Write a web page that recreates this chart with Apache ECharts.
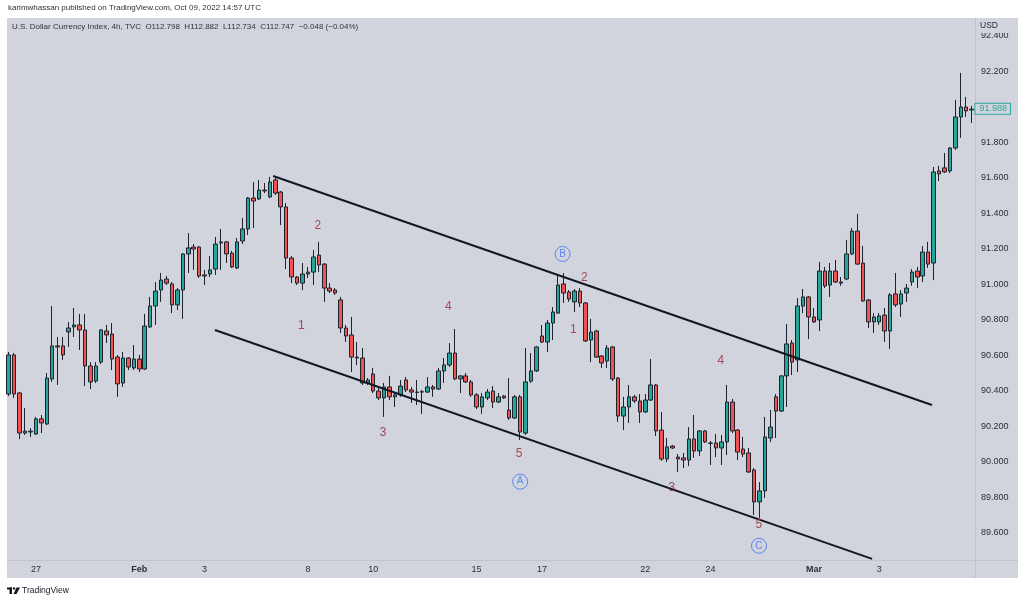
<!DOCTYPE html>
<html><head><meta charset="utf-8">
<script src="https://cdn.jsdelivr.net/npm/echarts@6/dist/echarts.min.js"></script>
<style>html,body{margin:0;padding:0;background:#fff}#c{width:1024px;height:604px}</style>
</head><body><div id="c"></div>
<script>
// ---- DATA (U.S. Dollar Currency Index, 4h candles) ----
const opens=[
90.383,90.603,90.389,90.163,90.169,90.158,90.243,90.214,90.468,90.654,
90.654,90.733,90.761,90.772,90.744,90.541,90.456,90.563,90.738,90.721,
90.591,90.445,90.586,90.530,90.580,90.524,90.761,90.879,90.969,91.031,
91.003,90.885,90.969,91.172,91.211,91.211,91.054,91.059,91.087,91.234,
91.240,91.177,91.093,91.245,91.313,91.487,91.482,91.532,91.493,91.589,
91.521,91.437,91.149,91.042,91.008,91.059,91.070,91.166,91.115,90.980,
90.969,90.913,90.755,90.716,90.591,90.586,90.445,90.496,90.400,90.361,
90.423,90.367,90.378,90.462,90.406,90.394,90.394,90.394,90.423,90.411,
90.513,90.547,90.614,90.468,90.485,90.451,90.378,90.310,90.361,90.400,
90.338,90.372,90.293,90.248,90.367,90.163,90.456,90.513,90.710,90.676,
90.783,90.839,91.003,90.958,90.902,90.963,90.896,90.687,90.738,90.597,
90.569,90.648,90.473,90.259,90.310,90.367,90.344,90.282,90.349,90.434,
90.180,90.017,90.090,90.028,90.023,90.011,90.130,90.062,90.175,90.107,
90.107,90.079,90.113,90.338,90.180,90.073,90.051,89.955,89.775,89.837,
90.135,90.367,90.287,90.485,90.670,90.575,90.879,90.930,90.817,90.800,
91.076,90.997,91.076,91.014,91.031,91.172,91.301,91.121,90.913,90.789,
90.789,90.828,90.738,90.947,90.890,90.952,91.014,91.076,91.048,91.183,
91.121,91.640,91.657,91.640,91.769,91.944,92.000,91.983];
const closes=[
90.603,90.383,90.163,90.174,90.174,90.243,90.220,90.473,90.654,90.648,
90.603,90.755,90.772,90.744,90.541,90.451,90.541,90.744,90.716,90.580,
90.440,90.586,90.535,90.580,90.524,90.766,90.879,90.963,91.025,91.008,
90.885,90.969,91.172,91.206,91.200,91.048,91.048,91.082,91.228,91.240,
91.172,91.099,91.240,91.313,91.487,91.470,91.532,91.527,91.577,91.515,
91.437,91.149,91.042,91.008,91.059,91.070,91.155,91.110,90.980,90.963,
90.952,90.755,90.710,90.591,90.586,90.445,90.462,90.400,90.361,90.423,
90.367,90.378,90.428,90.406,90.394,90.392,90.396,90.423,90.411,90.513,
90.547,90.614,90.468,90.485,90.451,90.378,90.310,90.367,90.394,90.338,
90.367,90.361,90.248,90.367,90.169,90.451,90.513,90.648,90.676,90.783,
90.845,90.997,90.952,90.918,90.963,90.896,90.682,90.732,90.591,90.558,
90.642,90.468,90.259,90.310,90.367,90.344,90.282,90.349,90.434,90.175,
90.017,90.085,90.079,90.017,90.011,90.130,90.062,90.175,90.113,90.105,
90.079,90.113,90.338,90.175,90.056,90.045,89.944,89.775,89.837,90.141,
90.197,90.287,90.485,90.665,90.563,90.879,90.930,90.817,90.789,91.076,
90.992,91.076,91.014,91.008,91.172,91.301,91.115,90.907,90.789,90.817,
90.823,90.738,90.941,90.885,90.947,90.980,91.070,91.042,91.183,91.115,
91.634,91.623,91.634,91.769,91.944,92.000,91.978,91.988];
const lows=[
90.372,90.361,90.129,90.152,90.141,90.152,90.163,90.208,90.451,90.434,
90.575,90.648,90.704,90.631,90.428,90.411,90.445,90.552,90.670,90.518,
90.367,90.423,90.518,90.518,90.507,90.518,90.755,90.772,90.902,90.997,
90.839,90.856,90.806,91.065,91.082,91.037,90.997,91.042,91.054,91.082,
91.121,91.093,91.087,91.228,91.279,91.318,91.476,91.515,91.487,91.504,
91.335,91.087,91.008,90.997,90.969,91.037,90.997,91.070,90.902,90.952,
90.941,90.727,90.676,90.507,90.546,90.434,90.434,90.389,90.349,90.254,
90.349,90.310,90.367,90.394,90.333,90.321,90.270,90.389,90.367,90.406,
90.445,90.535,90.462,90.389,90.445,90.367,90.298,90.270,90.349,90.304,
90.333,90.355,90.237,90.243,90.124,90.152,90.445,90.507,90.670,90.620,
90.687,90.834,90.896,90.902,90.845,90.873,90.676,90.563,90.586,90.530,
90.530,90.456,90.226,90.180,90.220,90.333,90.220,90.276,90.344,90.146,
90.006,90.000,90.073,89.944,89.966,89.977,90.023,90.034,90.107,89.983,
90.028,89.983,90.039,90.163,90.011,90.028,89.938,89.701,89.685,89.797,
90.113,90.135,90.282,90.310,90.490,90.507,90.839,90.693,90.783,90.738,
90.980,90.930,91.008,90.992,91.025,91.166,91.110,90.902,90.755,90.727,
90.772,90.676,90.637,90.873,90.817,90.902,90.992,90.980,91.014,91.093,
91.025,91.583,91.628,91.628,91.758,91.826,91.944,91.910];
const highs=[
90.620,90.614,90.395,90.304,90.191,90.254,90.265,90.501,90.879,90.704,
90.704,90.789,90.868,90.834,90.834,90.563,90.563,90.749,90.772,90.783,
90.603,90.620,90.591,90.659,90.603,90.834,90.930,91.014,91.065,91.048,
91.014,90.980,91.177,91.290,91.228,91.217,91.082,91.160,91.268,91.313,
91.245,91.189,91.262,91.375,91.493,91.577,91.589,91.572,91.606,91.606,
91.527,91.459,91.160,91.048,91.121,91.099,91.194,91.240,91.121,91.008,
90.980,90.930,90.772,90.817,90.676,90.642,90.473,90.530,90.423,90.445,
90.485,90.389,90.462,90.479,90.423,90.462,90.406,90.479,90.434,90.530,
90.586,90.670,90.749,90.490,90.501,90.462,90.389,90.389,90.411,90.428,
90.389,90.378,90.473,90.378,90.378,90.642,90.614,90.654,90.772,90.800,
90.873,91.054,91.065,90.969,90.975,90.980,90.902,90.806,90.744,90.603,
90.659,90.654,90.479,90.367,90.434,90.378,90.383,90.383,90.580,90.439,
90.282,90.135,90.096,90.045,90.051,90.197,90.265,90.180,90.180,90.118,
90.158,90.152,90.434,90.355,90.186,90.141,90.079,89.966,89.887,90.254,
90.293,90.383,90.490,90.777,90.687,90.924,90.975,90.935,90.868,91.127,
91.099,91.121,91.138,91.042,91.251,91.318,91.397,91.217,90.918,90.839,
90.839,90.868,90.952,91.065,90.969,91.003,91.087,91.099,91.217,91.240,
91.662,91.668,91.741,91.775,92.040,92.192,92.057,92.006];

// time-axis ticks (candle index -> label)
const tickIndex=[5,24,36,55,67,86,98,117,129,148,160];
const tickLabels=['27','Feb','3','8','10','15','17','22','24','Mar','3'];
const monthLabels=['Feb','Mar'];

// channel lines (candle index, price)
const upperLineX=[48.6,169.7], upperLineY=[91.611,90.321];
const lowerLineX=[37.9,158.7], lowerLineY=[90.744,89.454];

// Elliott wave numbers
const waveX=[56.8,53.8,80.8,68.8,93.8,105.8,103.8,130.9,121.9,137.9];
const waveY=[91.330,90.766,90.875,90.165,90.049,91.038,90.748,90.569,89.855,89.645];
const waveText=['2','1','4','3','5','2','1','4','3','5'];
// circled letters
const circX=[94.0,101.8,137.9];
const circY=[89.889,91.172,89.528];
const circText=['A','B','C'];

// price axis
const yMin=89.4, yMax=92.6, yStep=0.2;

// ---- CHART ----
const N=opens.length;
const candleData=opens.map((o,i)=>[o,closes[i],lows[i],highs[i]]);
const lastClose=closes[N-1];
const categories=opens.map((_,i)=>String(i));
const labelMap={}; tickIndex.forEach((t,k)=>labelMap[t]=tickLabels[k]);
const FONT='Liberation Sans';
const BG='#d1d4dc', SEP='#c0c3cb', TXT='#131722';

const chart=echarts.init(document.getElementById('c'),null,{renderer:'canvas'});
chart.setOption({
  animation:false,
  backgroundColor:'#ffffff',
  grid:{left:6,top:0.5,width:968.4,height:568},
  xAxis:[
    {type:'category',data:categories,boundaryGap:true,
     axisLine:{show:false},axisTick:{show:false},splitLine:{show:false},
     axisLabel:{interval:(i)=>labelMap[i]!==undefined,
       formatter:(v)=>{const t=labelMap[Number(v)]; if(t===undefined) return ''; return monthLabels.includes(t)?'{m|'+t+'}':t;},
       margin:1.5,verticalAlign:'middle',color:'#2a2e39',fontSize:9,fontFamily:FONT,
       rich:{m:{fontWeight:'bold',fontSize:9,fontFamily:FONT,color:'#2a2e39'}}}},
    {type:'value',min:-0.5,max:N-0.5,show:false}
  ],
  yAxis:{type:'value',position:'right',min:yMin,max:yMax,interval:yStep,scale:true,
    axisLine:{show:false},axisTick:{show:false},splitLine:{show:false},
    axisLabel:{showMinLabel:false,showMaxLabel:false,margin:6.5,
      formatter:(v)=>Math.abs(v-lastClose)<0.03?'':v.toFixed(3),
      color:'#2a2e39',fontSize:9,fontFamily:FONT}},
  graphic:[
    {type:'rect',z:-100,shape:{x:7,y:18,width:1011,height:560},style:{fill:BG}},
    {type:'line',z:1,shape:{x1:975.5,y1:18,x2:975.5,y2:578},style:{stroke:SEP,lineWidth:1}},
    {type:'line',z:1,shape:{x1:7,y1:560.5,x2:1018,y2:560.5},style:{stroke:SEP,lineWidth:1}},
    {type:'rect',z:50,shape:{x:977,y:19,width:40,height:14},style:{fill:BG}},
    {type:'text',z:51,left:980,top:21,style:{text:'USD',fill:'#2a2e39',font:'8.5px '+FONT}},
    {type:'text',z:51,left:8,top:4,style:{text:'karimwhassan published on TradingView.com, Oct 09, 2022 14:57 UTC',fill:'#333',font:'8px '+FONT}},
    {type:'text',z:51,left:12,top:23,style:{text:'U.S. Dollar Currency Index, 4h, TVC  O112.798  H112.882  L112.734  C112.747  \u22120.048 (\u22120.04%)',fill:'#333',font:'8px '+FONT}},
    {type:'rect',z:51,shape:{x:7,y:587.5,width:5,height:2},style:{fill:TXT}},
    {type:'rect',z:51,shape:{x:9.5,y:587.5,width:2.5,height:6.5},style:{fill:TXT}},
    {type:'circle',z:51,shape:{cx:14,cy:588.5,r:1.2},style:{fill:TXT}},
    {type:'polygon',z:51,shape:{points:[[16.5,587.5],[20,587.5],[16.5,594],[13.5,594]]},style:{fill:TXT}},
    {type:'text',z:51,left:22,top:586.5,style:{text:'TradingView',fill:TXT,font:'8.5px '+FONT}}
  ],
  series:[
    {type:'candlestick',name:'DXY',xAxisIndex:0,yAxisIndex:0,data:candleData,barWidth:4,
     itemStyle:{color:'#26a69a',color0:'#ef5350',borderColor:'#1e222d',borderColor0:'#1e222d',borderWidth:1},
     markLine:{silent:true,symbol:['none','none'],lineStyle:{width:0,color:'transparent'},
       label:{show:true,position:'end',distance:1,formatter:()=>lastClose.toFixed(3),color:'#26a69a',
         backgroundColor:BG,borderColor:'#26a69a',borderWidth:1,padding:[1,3,0,4],fontSize:9,fontFamily:FONT},
       data:[{yAxis:lastClose}]}},
    {type:'line',xAxisIndex:1,z:3,symbol:'none',data:upperLineX.map((x,k)=>[x,upperLineY[k]]),lineStyle:{color:TXT,width:2}},
    {type:'line',xAxisIndex:1,z:3,symbol:'none',data:lowerLineX.map((x,k)=>[x,lowerLineY[k]]),lineStyle:{color:TXT,width:2}},
    {type:'scatter',xAxisIndex:1,z:4,symbol:'circle',symbolSize:1,itemStyle:{color:'transparent'},
     data:waveX.map((x,k)=>({value:[x,waveY[k]],name:waveText[k]})),
     label:{show:true,position:'inside',formatter:'{b}',color:'#952535',fontSize:12,fontFamily:FONT}},
    {type:'scatter',xAxisIndex:1,z:4,symbol:'circle',symbolSize:15,itemStyle:{color:'transparent',borderColor:'#3f73f5',borderWidth:1},
     data:circX.map((x,k)=>({value:[x,circY[k]],name:circText[k]})),
     label:{show:true,position:'inside',formatter:'{b}',color:'#3f73f5',fontSize:10,fontFamily:FONT}}
  ]
});
</script></body></html>
